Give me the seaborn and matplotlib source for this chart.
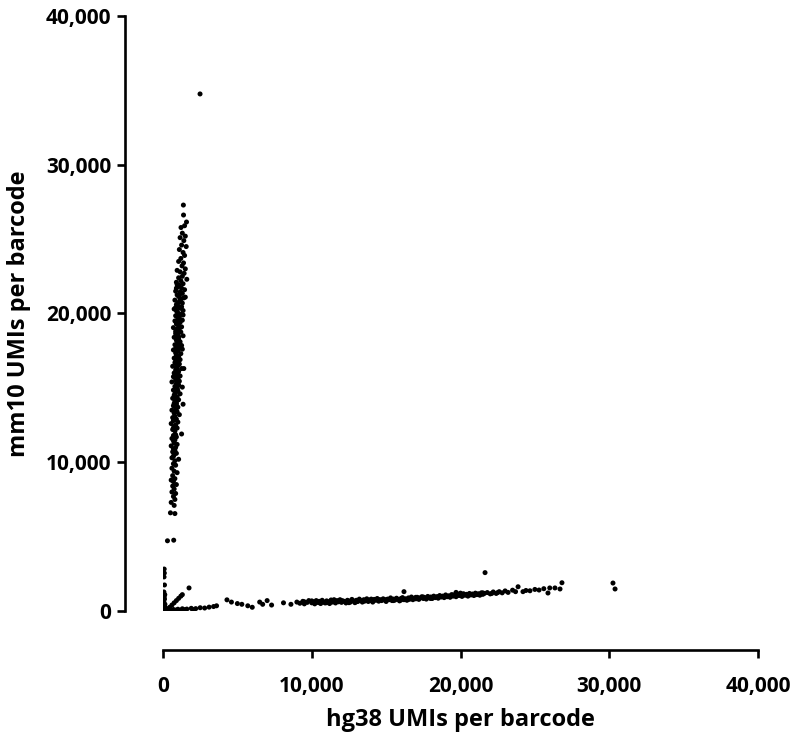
import matplotlib
matplotlib.use("Agg")
import matplotlib.pyplot as plt
import seaborn as sns
import pandas as pd
from matplotlib.ticker import FuncFormatter

# Mouse-like barcodes (hg38 UMIs, mm10 UMIs)
mouse_cells = [
    (1370, 27290), (1380, 26620), (1580, 26150), (1210, 25780), (1450, 25900), (1300, 25400),
    (1500, 25200), (1150, 25100), (1400, 24900), (1250, 24600), (1560, 24500), (1100, 24300),
    (1350, 24100), (1450, 23900), (1200, 23700), (1050, 23500), (1380, 23400), (1280, 23200),
    (1500, 23000), (950, 22900), (1150, 22800), (1420, 22700), (1300, 22500), (1050, 22400),
    (1600, 22300), (1200, 22200), (900, 22100), (1350, 22000), (1100, 21900), (1000, 21800),
    (1250, 21700), (1450, 21600), (850, 21500), (1150, 21450), (1300, 21350), (950, 21250),
    (1050, 21150), (1400, 21050), (1200, 20950), (800, 20900), (1100, 20800), (1300, 20700),
    (900, 20600), (1000, 20500), (1250, 20450), (1150, 20350), (750, 20300), (1350, 20200),
    (950, 20100), (1050, 20000), (1200, 19950), (850, 19850), (1100, 19750), (1000, 19650),
    (1300, 19550), (800, 19500), (1150, 19400), (900, 19300), (1050, 19200), (1250, 19100),
    (700, 19050), (950, 18950), (1100, 18850), (1200, 18750), (850, 18650), (1000, 18600),
    (1350, 18500), (750, 18400), (1050, 18300), (900, 18200), (1150, 18100), (1000, 18000),
    (800, 17900), (1250, 17850), (950, 17750), (1100, 17650), (700, 17550), (1000, 17450),
    (850, 17350), (1200, 17300), (900, 17200), (1050, 17100), (750, 17000), (1150, 16900),
    (950, 16800), (800, 16700), (1100, 16600), (1000, 16500), (650, 16450), (900, 16350),
    (1250, 16300), (850, 16200), (1050, 16100), (750, 16000), (950, 15900), (1150, 15800),
    (700, 15750), (1000, 15650), (850, 15550), (1100, 15450), (600, 15400), (900, 15300),
    (1050, 15200), (800, 15100), (1300, 15050), (950, 14950), (700, 14850), (1000, 14800),
    (850, 14700), (1150, 14600), (750, 14500), (950, 14400), (650, 14300), (1050, 14200),
    (800, 14100), (900, 14000), (1350, 13900), (700, 13800), (1000, 13700), (850, 13600),
    (600, 13500), (950, 13400), (750, 13300), (1100, 13200), (800, 13100), (650, 13000),
    (900, 12900), (700, 12800), (1000, 12700), (550, 12600), (850, 12500), (750, 12400),
    (950, 12300), (650, 12200), (800, 12100), (1250, 11900), (700, 11800), (900, 11700),
    (600, 11600), (800, 11500), (750, 11300), (950, 11200), (550, 11100), (850, 11000),
    (700, 10900), (650, 10700), (900, 10600), (750, 10500), (600, 10300), (1050, 10200),
    (800, 10100), (700, 9900), (850, 9800), (600, 9600), (750, 9400), (950, 9300),
    (650, 9100), (800, 8900), (550, 8800), (700, 8700), (900, 8500), (650, 8400),
    (750, 8200), (600, 8000), (850, 7900), (700, 7700), (800, 7500), (550, 7300),
    (750, 7100), (500, 6600), (800, 6550), (300, 4720), (720, 4760),
    (900, 21700), (1100, 21200), (1000, 20700), (900, 20200), (1100, 19500), (1000, 19000),
    (900, 18400), (1100, 17800), (1000, 17100), (900, 16600), (1000, 16000), (900, 15500),
    (950, 15000), (800, 14600), (900, 13900), (1300, 17600), (1400, 16300), (1350, 19900),
    (1500, 21100),
    (950, 21950), (1150, 21000), (850, 20400), (1050, 19850), (950, 19400), (850, 18800),
    (1050, 18450), (950, 17950), (850, 17650), (1050, 16750), (850, 16900), (950, 16250),
    (800, 15850), (1000, 15350), (850, 14900), (900, 14350), (750, 13950), (900, 13450),
    (800, 12850), (700, 12300), (850, 11850), (700, 11450), (800, 10800), (700, 10400),
]

# Barcodes near the origin (empty droplets / low counts)
low_cells = [
    (80, 2820), (90, 2550), (70, 2290), (100, 1750), (60, 1280), (120, 1100), (80, 950),
    (100, 800), (60, 600), (130, 450), (90, 300), (150, 200), (50, 100), (200, 50),
    (300, 150), (450, 250), (600, 400), (750, 550), (900, 700), (1050, 850), (1200, 1000),
    (1300, 1100), (1750, 1550),
    (400, 80), (700, 100), (1000, 120), (1300, 150), (1600, 130), (1900, 180), (2200, 160),
    (2500, 220), (2800, 200), (3100, 260), (3400, 300), (3600, 350), (500, 40), (850, 60),
    (1150, 50), (1450, 90), (2000, 100),
    (4300, 750), (4600, 600), (5000, 500), (5300, 450), (5700, 350), (6000, 250),
    (6500, 600), (6700, 450), (7000, 700), (7300, 400), (8100, 550), (8600, 450),
]

# Human-like barcodes
human_cells = [
    (9000, 600), (9200, 520), (9400, 650), (9500, 480), (9700, 580), (9800, 700), (10000, 550),
    (10100, 620), (10200, 480), (10300, 700), (10400, 580), (10500, 650), (10600, 500),
    (10700, 720), (10800, 600), (10900, 540), (11000, 680), (11100, 620), (11200, 500),
    (11300, 740), (11400, 600), (11500, 660), (11600, 540), (11700, 700), (11800, 620),
    (11900, 760), (12000, 580), (12100, 680), (12200, 640), (12300, 540), (12400, 720),
    (12500, 660), (12600, 600), (12700, 780), (12800, 680), (12900, 560), (13000, 720),
    (13100, 640), (13200, 800), (13300, 700), (13400, 600), (13500, 760), (13600, 680),
    (13700, 820), (13800, 640), (13900, 740), (14000, 700), (14100, 600), (14200, 780),
    (14300, 720), (14400, 840), (14500, 660), (14600, 760), (14700, 700), (14800, 820),
    (14900, 740), (15000, 640), (15100, 800), (15200, 760), (15300, 880), (15400, 700),
    (15500, 800), (15600, 740), (15700, 860), (15800, 780), (15900, 680), (16000, 840),
    (16100, 900), (16200, 760), (16300, 820), (16400, 720), (16500, 880), (16600, 800),
    (16700, 940), (16800, 760), (16900, 860), (17000, 820), (17100, 920), (17200, 780),
    (17300, 880), (17400, 960), (17500, 840), (17600, 900), (17700, 800), (17800, 980),
    (17900, 880), (18000, 940), (18100, 840), (18200, 1000), (18300, 900), (18400, 960),
    (18500, 860), (18600, 1040), (18700, 940), (18800, 1000), (18900, 900), (19000, 1080),
    (19100, 960), (19200, 1020), (19300, 920), (19400, 1100), (19500, 1000), (19600, 1060),
    (19700, 960), (19800, 1140), (19900, 1040), (20000, 1100), (20100, 980), (20200, 1160),
    (20300, 1060), (20400, 1120), (20500, 1000), (20600, 1180), (20700, 1080), (20800, 1140),
    (20900, 1040), (21000, 1200), (21100, 1100), (21200, 1160), (21300, 1060), (21400, 1220),
    (21500, 1120), (21600, 1180), (21800, 1240), (22000, 1150), (22200, 1280), (22400, 1180),
    (22600, 1300), (22800, 1220), (23000, 1350), (23200, 1250), (23500, 1400), (23700, 1300),
    (23870, 1630), (24200, 1300), (24400, 1380), (24670, 1360), (25000, 1450), (25280, 1410),
    (25600, 1500), (25880, 1210), (26000, 1550), (26350, 1550), (26690, 1480), (26820, 1900),
    (21650, 2580), (30250, 1880), (30390, 1480), (16200, 1300), (19700, 1250),
    (9500, 620), (10000, 680), (10500, 560), (11000, 560), (11500, 760), (12000, 700),
    (12500, 560), (13000, 620), (13500, 660), (14000, 800), (14500, 760), (15000, 760),
    (15500, 700), (16000, 740), (16500, 780), (17000, 920), (17500, 940), (18000, 840),
    (18500, 960), (19000, 980), (19500, 1080), (20000, 1200), (20500, 1100), (21000, 1100),
    (21500, 1220), (22100, 1180), (22500, 1240),
]

# Outlier doublet
doublet_cells = [(2490, 34760)]

axis_ticks = [0, 10000, 20000, 30000, 40000]
x_label = "hg38 UMIs per barcode"
y_label = "mm10 UMIs per barcode"

all_cells = mouse_cells + low_cells + human_cells + doublet_cells
df = pd.DataFrame(all_cells, columns=["hg38", "mm10"])

sns.set_theme(style="ticks")
plt.rcParams["font.family"] = ["Open Sans", "DejaVu Sans"]

fig = plt.figure(figsize=(7.96, 7.33), dpi=100)
ax = fig.add_axes([163 / 796, (733 - 611) / 733, 595 / 796, 595 / 733])

sns.scatterplot(data=df, x="hg38", y="mm10", ax=ax, color="black", s=13,
                linewidth=0, edgecolor="none")

ax.set_xlim(0, 40000)
ax.set_ylim(0, 40000)
ax.set_xticks(axis_ticks)
ax.set_yticks(axis_ticks)
fmt = FuncFormatter(lambda v, p: f"{int(v):,}")
ax.xaxis.set_major_formatter(fmt)
ax.yaxis.set_major_formatter(fmt)

for side in ["top", "right"]:
    ax.spines[side].set_visible(False)
ax.spines["left"].set_position(("outward", 27.5))
ax.spines["bottom"].set_position(("outward", 28))
for side in ["left", "bottom"]:
    ax.spines[side].set_linewidth(1.9)
    ax.spines[side].set_color("black")

ax.tick_params(axis="both", length=5.5, width=1.9, color="black",
               labelsize=15, labelcolor="black")
ax.tick_params(axis="y", pad=4)
ax.tick_params(axis="x", pad=13)
for lab in ax.get_xticklabels() + ax.get_yticklabels():
    lab.set_fontweight("bold")

ax.set_xlabel(x_label, fontsize=17, fontweight="bold", color="black")
ax.set_ylabel(y_label, fontsize=17, fontweight="bold", color="black")
ax.xaxis.set_label_coords(0.5, -0.163)
ax.yaxis.set_label_coords(-0.222, 0.5)

fig.savefig("out.png", dpi=100, facecolor="white")
